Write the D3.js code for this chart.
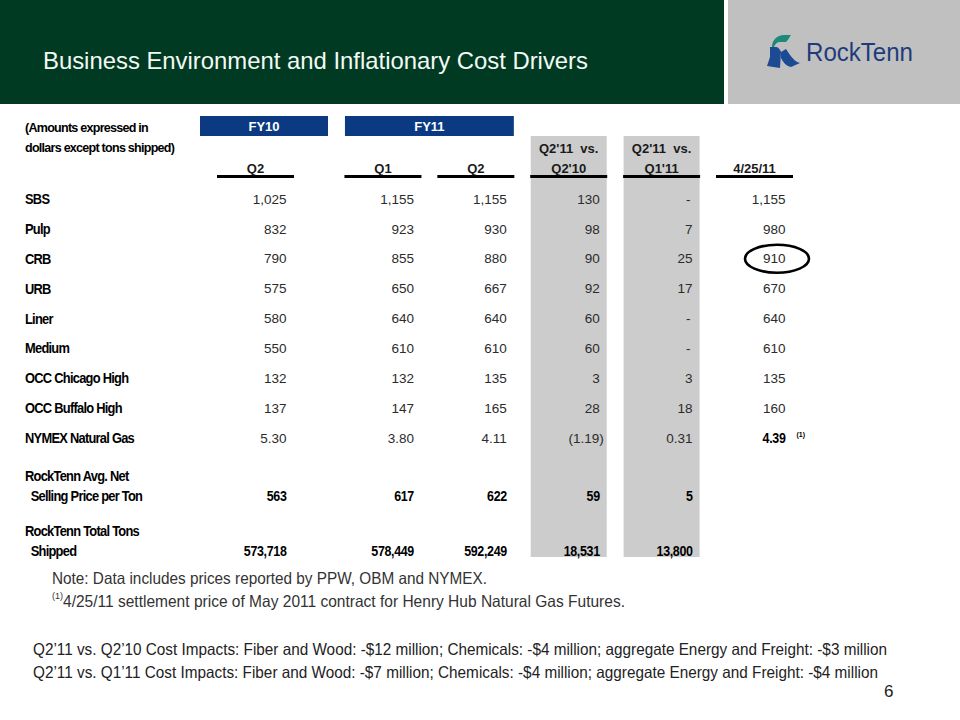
<!DOCTYPE html>
<html><head><meta charset="utf-8">
<script src="https://cdn.jsdelivr.net/npm/d3@7/dist/d3.min.js"></script>
<style>
html,body{margin:0;padding:0;background:#fff;}
svg{display:block;}
</style></head>
<body>
<script>
// ---------- DATA ----------
const titleText = "Business Environment and Inflationary Cost Drivers";
const rowLabels = [["SBS"],["Pulp"],["CRB"],["URB"],["Liner"],["Medium"],["OCC Chicago High"],["OCC Buffalo High"],["NYMEX Natural Gas"],["RockTenn Avg. Net","  Selling Price per Ton"],["RockTenn Total Tons","  Shipped"]];
const fy10Q2   = [1025, 832, 790, 575, 580, 550, 132, 137, 5.30, 563, 573718];
const fy11Q1   = [1155, 923, 855, 650, 640, 610, 132, 147, 3.80, 617, 578449];
const fy11Q2   = [1155, 930, 880, 667, 640, 610, 135, 165, 4.11, 622, 592249];
const vsQ2_10  = [130, 98, 90, 92, 60, 60, 3, 28, -1.19, 59, 18531];
const vsQ1_11  = [0, 7, 25, 17, 0, 0, 3, 18, 0.31, 5, 13800];
const apr25_11 = [1155, 980, 910, 670, 640, 610, 135, 160, 4.39, null, null];
const rowDecimals = [0,0,0,0,0,0,0,0,2,0,0];
const boldRows = [9, 10];
const columnHeaders = [["Q2"],["Q1"],["Q2"],["Q2'11  vs.","Q2'10"],["Q2'11  vs.","Q1'11"],["4/25/11"]];
const fiscalGroups = ["FY10","FY11"];
const headerNote = ["(Amounts expressed in","dollars except tons shipped)"];
const noteLine = "Note: Data includes prices reported by PPW, OBM and NYMEX.";
const footnoteMark = "(1)";
const footnoteText = "4/25/11 settlement price of May 2011 contract for Henry Hub Natural Gas Futures.";
const costLines = [
  "Q2\u201911 vs. Q2\u201910 Cost Impacts: Fiber and Wood: -$12 million; Chemicals: -$4 million; aggregate Energy and Freight: -$3 million",
  "Q2\u201911 vs. Q1\u201911 Cost Impacts: Fiber and Wood: -$7 million;  Chemicals: -$4 million; aggregate Energy and Freight: -$4 million"
];
const pageNumber = "6";
const logoText = "RockTenn";

// ---------- LAYOUT ----------
const W = 960, H = 720;
const columns = [fy10Q2, fy11Q1, fy11Q2, vsQ2_10, vsQ1_11, apr25_11];
const colSlot = [0, 1.372, 2.372, 3.372, 4.372, 5.372];
const rowSlot = [0,1,2,3,4,5,6,7,8,9.93,11.77];
const x = d3.scaleLinear().domain([0, 5.372]).range([255.5, 754.5]);
const y = d3.scaleLinear().domain([0, 8]).range([199, 438]);
const sans = "'Liberation Sans',Arial,Helvetica,sans-serif";

const svg = d3.select("body").append("svg").attr("width", W).attr("height", H);

svg.append("rect").attr("width", W).attr("height", H).attr("fill", "#fff");

// header band
svg.append("rect").attr("x",0).attr("y",0).attr("width",724).attr("height",104).attr("fill","#003a23");
svg.append("rect").attr("x",728).attr("y",0).attr("width",232).attr("height",104).attr("fill","#c0c0c0");
svg.append("text").text(titleText).attr("x",43).attr("y",69)
  .attr("font-family",sans).attr("font-size",24).attr("fill","#f4faf4")
  .attr("textLength",545).attr("lengthAdjust","spacingAndGlyphs");

// logo
const logo = svg.append("g");
logo.append("path").attr("d","M772,47 C772,40 777,35 784,35 L791,35 C789,38 788,40 786,42 L780,42 C777,42 775,44 774,47 Z").attr("fill","#1b8a78");
logo.append("path").attr("d","M770,47 L776,47 C778,47 780,49 781,52 L780,68 L767,66 L770,57 Z").attr("fill","#1c4a93");
logo.append("path").attr("d","M781,52 L786,49 L790,55 C793,59 796,62 800,63 L791,67 C786,66 783,62 781,58 Z").attr("fill","#1c4a93");
logo.append("text").text(logoText).attr("x",806).attr("y",61)
  .attr("font-family",sans).attr("font-size",25).attr("fill","#1e3c7c")
  .attr("textLength",107).attr("lengthAdjust","spacingAndGlyphs");

// gray comparison columns
[3,4].forEach(c => {
  svg.append("rect").attr("x", x(colSlot[c]) - 38).attr("y", 136)
    .attr("width", 76).attr("height", 421).attr("fill", "#cccccc");
});

// fiscal year boxes
const fyBox = [
  {label: fiscalGroups[0], x0: x(colSlot[0]) - 55.5, x1: x(colSlot[0]) + 72.5},
  {label: fiscalGroups[1], x0: x(colSlot[1]) - 38, x1: x(colSlot[2]) + 38}
];
fyBox.forEach(b => {
  svg.append("rect").attr("x", b.x0).attr("y", 116).attr("width", b.x1 - b.x0).attr("height", 20).attr("fill", "#0b3a82");
  svg.append("text").text(b.label).attr("x", (b.x0 + b.x1)/2).attr("y", 131)
    .attr("text-anchor","middle").attr("font-family",sans).attr("font-weight","bold")
    .attr("font-size",13).attr("fill","#fff");
});

// squeezed bold text helper
function squeezed(g, t, px, py, size, sx, anchor) {
  const el = g.append("g").attr("transform", `translate(${px},${py}) scale(${sx},1)`);
  return el.append("text").text(t).attr("x",0).attr("y",0)
    .attr("text-anchor", anchor || "start")
    .attr("font-family",sans).attr("font-weight","bold").attr("font-size",size)
    .attr("letter-spacing","-0.8").attr("fill","#000").style("white-space","pre");
}

// header note
headerNote.forEach((t,i) => squeezed(svg, t, 25, 132 + i*20, 13.5, 0.93));

// column headers and underlines
columnHeaders.forEach((lines, c) => {
  const cx = x(colSlot[c]);
  lines.forEach((t, i) => {
    svg.append("text").text(t).attr("x", cx).attr("y", 173 - (lines.length - 1 - i)*20)
      .attr("text-anchor","middle").attr("font-family",sans).attr("font-weight","bold")
      .attr("font-size",13).attr("fill","#1a1a1a").style("white-space","pre");
  });
  svg.append("rect").attr("x", cx - 38.5).attr("y", 175).attr("width", 77).attr("height", 3).attr("fill", "#000");
});

// row labels
rowLabels.forEach((lines, r) => {
  const yy = y(rowSlot[r]);
  lines.forEach((t, i) => {
    squeezed(svg, t, 25, yy - (lines.length - 1 - i)*20 + 5, 14, 0.92);
  });
});

// values
function fmt(v, d) {
  if (v === null) return "";
  if (v === 0) return "-";
  const s = d3.format(d > 0 ? ",." + d + "f" : ",")(Math.abs(v));
  return v < 0 ? "(" + s + ")" : s;
}
columns.forEach((col, c) => {
  const rx = x(colSlot[c]) + 31;
  col.forEach((v, r) => {
    if (v === null) return;
    const bold = boldRows.includes(r) || (c === 5 && r === 8);
    const t = fmt(v, rowDecimals[r]);
    const px = rx + (v < 0 ? 4 : (v === 0 ? -2 : 0));
    if (bold) {
      squeezed(svg, t, px, y(rowSlot[r]) + 5, 14.5, 0.86, "end").attr("letter-spacing","-0.4");
    } else {
      svg.append("text").text(t)
        .attr("x", px).attr("y", y(rowSlot[r])).attr("dy","0.35em")
        .attr("text-anchor","end")
        .attr("font-family", sans).attr("font-size", 13.5).attr("fill", "#2b2b2b");
    }
  });
});

// footnote marker next to 4.39
svg.append("text").text(footnoteMark).attr("x", x(colSlot[5]) + 42).attr("y", y(8) - 1)
  .attr("font-family",sans).attr("font-weight","bold").attr("font-size",7).attr("fill","#000");

// ellipse around CRB 4/25/11
svg.append("ellipse").attr("cx", x(colSlot[5]) + 22.5).attr("cy", y(rowSlot[2]))
  .attr("rx", 32).attr("ry", 14).attr("fill","none").attr("stroke","#000").attr("stroke-width",2.6);

// notes
svg.append("text").text(noteLine).attr("x",52).attr("y",584)
  .attr("font-family",sans).attr("font-size",16.5).attr("fill","#333")
  .attr("textLength",435).attr("lengthAdjust","spacingAndGlyphs");
svg.append("text").text(footnoteMark).attr("x",52).attr("y",599)
  .attr("font-family",sans).attr("font-size",9).attr("fill","#333");
svg.append("text").text(footnoteText).attr("x",63).attr("y",607)
  .attr("font-family",sans).attr("font-size",16.5).attr("fill","#333")
  .attr("textLength",562).attr("lengthAdjust","spacingAndGlyphs");

costLines.forEach((t,i) => {
  svg.append("text").text(t).attr("x",33).attr("y",655 + i*23)
    .attr("font-family",sans).attr("font-size",16.5).attr("fill","#222")
    .attr("textLength", i === 0 ? 854 : 845).attr("lengthAdjust","spacingAndGlyphs");
});

svg.append("text").text(pageNumber).attr("x",884).attr("y",697)
  .attr("font-family",sans).attr("font-size",17).attr("fill","#222");
</script>
</body></html>
